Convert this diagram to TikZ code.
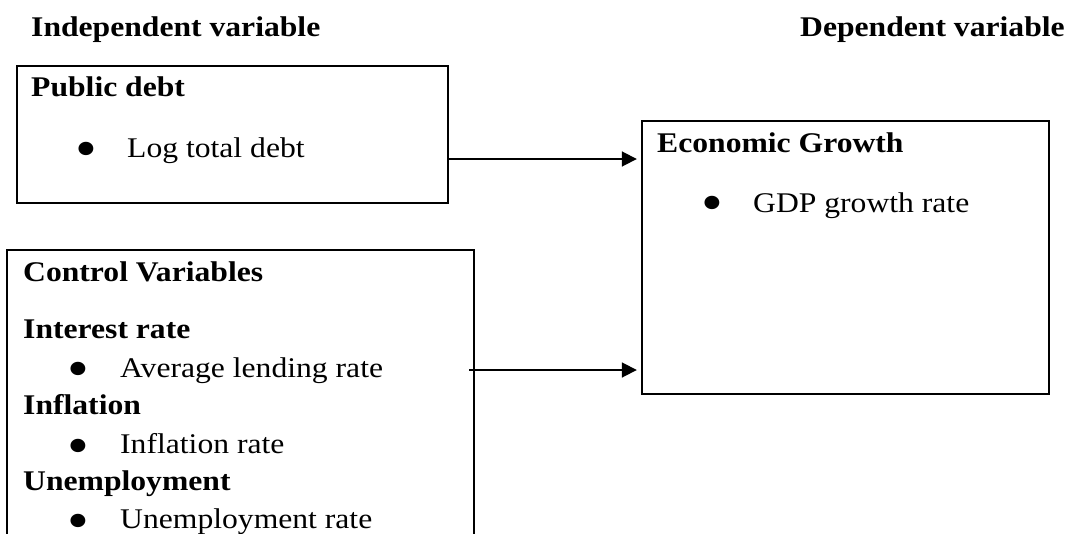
\documentclass[tikz,border=0pt]{standalone}
\usepackage{fontspec}
\setmainfont[FakeStretch=1.11]{Liberation Serif}
\usetikzlibrary{arrows.meta}
\tikzset{
  boxframe/.style={draw=black, line width=2.2pt, inner sep=0pt},
  txt/.style={anchor=base west, inner sep=0pt, font=\fontsize{28.5}{34}\selectfont},
  btxt/.style={txt, font=\fontsize{28.5}{34}\selectfont\bfseries},
  bul/.style={anchor=center, inner sep=0pt, font=\fontsize{56}{60}\selectfont},
  conn/.style={line width=1.8pt, -{Triangle[length=15pt,width=15pt]}, shorten >=5pt},
}
\begin{document}
\begin{tikzpicture}[x=1pt, y=-1pt]
\useasboundingbox (0,0) rectangle (1070,533);
\clip (0,0) rectangle (1070,533);
% headings
\node[btxt] (hind) at (31,36) {Independent variable};
\node[btxt] (hdep) at (800,36) {Dependent variable};
% boxes
\draw[boxframe] (17,66) rectangle (448,203);
\node[inner sep=0pt, minimum width=431pt, minimum height=137pt] (pd) at (232.5,134.5) {};
\draw[boxframe] (7,250) rectangle (474,560);
\node[inner sep=0pt, minimum width=467pt, minimum height=310pt] (cv) at (240.5,405) {};
\draw[boxframe] (642,121) rectangle (1049,394);
\node[inner sep=0pt, minimum width=407pt, minimum height=273pt] (eg) at (845.5,257.5) {};
% public debt texts
\node[btxt] (t1) at (31,96) {Public debt};
\node[bul] (b1) at (86,155) {•};
\node[txt] (t2) at (127,157) {Log total debt};
% control variables texts
\node[btxt] (t3) at (23,281) {Control Variables};
\node[btxt] (t4) at (23,338) {Interest rate};
\node[bul] (b2) at (78,375) {•};
\node[txt] (t5) at (120,377) {Average lending rate};
\node[btxt] (t6) at (23,414) {Inflation};
\node[bul] (b3) at (78,452) {•};
\node[txt] (t7) at (120,453) {Inflation rate};
\node[btxt] (t8) at (23,490) {Unemployment};
\node[bul] (b4) at (78,527) {•};
\node[txt] (t9) at (120,528) {Unemployment rate};
% economic growth texts
\node[btxt] (t10) at (657,152) {Economic Growth};
\node[bul] (b5) at (712,208.5) {•};
\node[txt] (t11) at (753,212) {GDP growth rate};
% connectors
\coordinate (s1) at (448,159);
\coordinate (s2) at (469,370);
\draw[conn] (s1) -- (s1 -| eg.west);
\draw[conn] (s2) -- (s2 -| eg.west);
\end{tikzpicture}
\end{document}
